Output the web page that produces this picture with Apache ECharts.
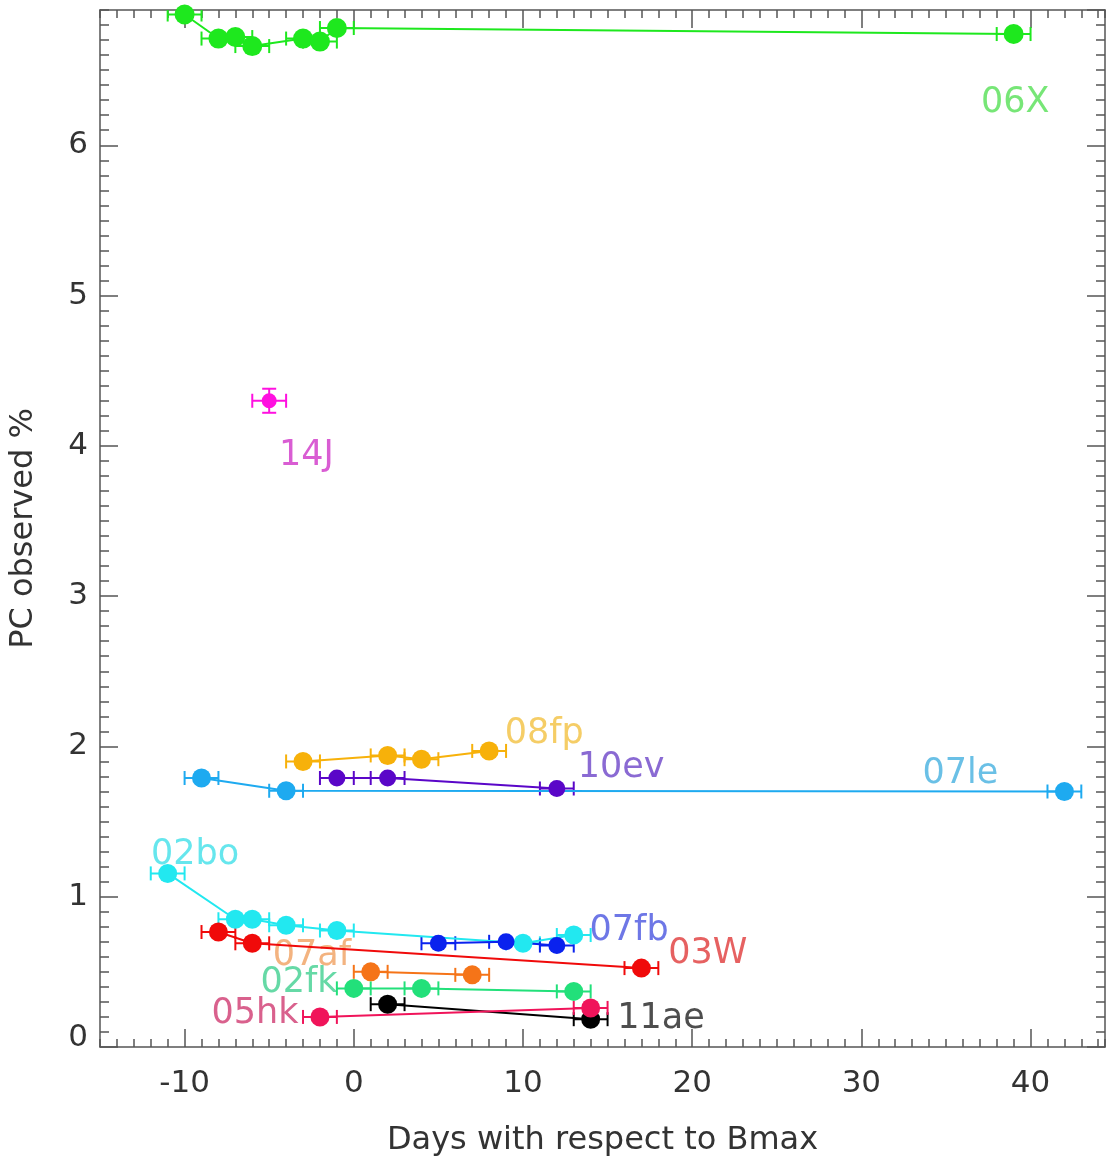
<!DOCTYPE html>
<html><head><meta charset="utf-8">
<script src="https://cdn.jsdelivr.net/npm/echarts@6/dist/echarts.min.js"></script>
<style>html,body{margin:0;padding:0;background:#fff}#c{width:1107px;height:1162px}</style>
</head><body><div id="c"></div>
<script>
// ---- data (days w.r.t. Bmax, PC observed %, x error in days) ----
const names = ['06X','14J','07le','08fp','10ev','02bo','07fb','03W','07af','02fk','11ae','05hk'];
const days06X = [-10, -8, -7, -6, -3, -2, -1, 39];
const pc06X   = [6.87, 6.71, 6.72, 6.66, 6.71, 6.69, 6.78, 6.74];
const err06X  = [1, 1, 1, 1, 1, 1, 1, 1];
const days14J = [-5];
const pc14J   = [4.30];
const err14J  = [1];
const yerr14J = [0.08];
const days07le = [-9, -4, 42];
const pc07le   = [1.79, 1.705, 1.70];
const err07le  = [1, 1, 1];
const days08fp = [-3, 2, 4, 8];
const pc08fp   = [1.90, 1.94, 1.915, 1.97];
const err08fp  = [1, 1, 1, 1];
const days10ev = [-1, 2, 12];
const pc10ev   = [1.79, 1.79, 1.72];
const err10ev  = [1, 1, 1];
const days02bo = [-11, -7, -6, -4, -1, 10, 13];
const pc02bo   = [1.155, 0.85, 0.85, 0.81, 0.775, 0.69, 0.745];
const err02bo  = [1, 1, 1, 1, 1, 1, 1];
const days07fb = [5, 9, 12];
const pc07fb   = [0.69, 0.70, 0.675];
const err07fb  = [1, 1, 1];
const days03W = [-8, -6, 17];
const pc03W   = [0.765, 0.69, 0.525];
const err03W  = [1, 1, 1];
const days07af = [1, 7];
const pc07af   = [0.50, 0.48];
const err07af  = [1, 1];
const days02fk = [0, 4, 13];
const pc02fk   = [0.39, 0.39, 0.37];
const err02fk  = [1, 1, 1];
const days11ae = [2, 14];
const pc11ae   = [0.285, 0.185];
const err11ae  = [1, 1];
const days05hk = [-2, 14];
const pc05hk   = [0.20, 0.26];
const err05hk  = [1, 1];
// label anchor positions (data units)
const labelDays = [39.1, -2.8, 35.85, 11.26, 15.8, -9.38, 16.27, 20.93, -2.48, -3.24, 18.16, -5.84];
const labelPC   = [6.28, 3.93, 1.815, 2.08, 1.855, 1.278, 0.775, 0.62, 0.607, 0.427, 0.185, 0.218];
// axes
const xMajorTicks = [-10, 0, 10, 20, 30, 40];
const xMin = -15, xMax = 44.4, yMin = 0, yMax = 6.9;

// ---- styles ----
const colors = {
  '06X':'#1ee81e','14J':'#ff10e0','07le':'#1eaaf0','08fp':'#f7b10a','10ev':'#5a06c8',
  '02bo':'#22e8f0','07fb':'#0a22ee','03W':'#f00a0a','07af':'#f57418','02fk':'#22e07a',
  '11ae':'#000000','05hk':'#f0145a'
};
const labelColors = {
  '06X':'#55e055','14J':'#d035c8','07le':'#45b0e0','08fp':'#f2c040','10ev':'#6d45c8',
  '02bo':'#40e0e8','07fb':'#4a55e0','03W':'#e03a3a','07af':'#f0a060','02fk':'#40d090',
  '11ae':'#222222','05hk':'#d03a70'
};
const sizes = {'06X':20,'14J':15,'10ev':17,'07fb':17};

const dataMap = {
  '06X':[days06X,pc06X,err06X],'14J':[days14J,pc14J,err14J,yerr14J],'07le':[days07le,pc07le,err07le],
  '08fp':[days08fp,pc08fp,err08fp],'10ev':[days10ev,pc10ev,err10ev],'02bo':[days02bo,pc02bo,err02bo],
  '07fb':[days07fb,pc07fb,err07fb],'03W':[days03W,pc03W,err03W],'07af':[days07af,pc07af,err07af],
  '02fk':[days02fk,pc02fk,err02fk],'11ae':[days11ae,pc11ae,err11ae],'05hk':[days05hk,pc05hk,err05hk]
};

function errRender(params, api) {
  const x = api.value(0), y = api.value(1), ex = api.value(2), ey = api.value(3);
  const col = api.visual('color');
  const st = {stroke: col, lineWidth: 2};
  const l = api.coord([x - ex, y]), r = api.coord([x + ex, y]);
  const cap = 7;
  const ch = [
    {type:'line', shape:{x1:l[0],y1:l[1],x2:r[0],y2:r[1]}, style:st},
    {type:'line', shape:{x1:l[0],y1:l[1]-cap,x2:l[0],y2:l[1]+cap}, style:st},
    {type:'line', shape:{x1:r[0],y1:r[1]-cap,x2:r[0],y2:r[1]+cap}, style:st}
  ];
  if (ey > 0) {
    const t = api.coord([x, y + ey]), b = api.coord([x, y - ey]);
    ch.push({type:'line', shape:{x1:t[0],y1:t[1],x2:b[0],y2:b[1]}, style:st});
    ch.push({type:'line', shape:{x1:t[0]-cap,y1:t[1],x2:t[0]+cap,y2:t[1]}, style:st});
    ch.push({type:'line', shape:{x1:b[0]-cap,y1:b[1],x2:b[0]+cap,y2:b[1]}, style:st});
  }
  return {type:'group', children: ch};
}

const series = [];
names.forEach(n => {
  const [d, p, e, ye] = dataMap[n];
  series.push({
    type:'custom', name:n+'_err', xAxisIndex:0, yAxisIndex:0, renderItem: errRender,
    itemStyle:{color:colors[n]}, z:2, clip:true,
    data: d.map((v,i)=>[v, p[i], e[i], ye ? ye[i] : 0])
  });
  series.push({
    type:'line', name:n, xAxisIndex:0, yAxisIndex:0, z:3,
    data: d.map((v,i)=>[v, p[i]]),
    symbol:'circle', symbolSize: sizes[n] || 19, showSymbol:true,
    itemStyle:{color:colors[n]}, lineStyle:{color:colors[n], width:2}
  });
});
series.push({
  type:'scatter', name:'labels', xAxisIndex:0, yAxisIndex:0, z:1, symbolSize:0, silent:true,
  data: names.map((n,i)=>({value:[labelDays[i], labelPC[i]], label:{color:labelColors[n]}})),
  label:{show:true, position:'inside', formatter: p => names[p.dataIndex],
         fontFamily:'DejaVu Sans', fontSize:35, align:'center', verticalAlign:'middle'}
});

const tickStyle = {color:'#555', width:1.5};
const axisLine = {show:true, onZero:false, lineStyle:{color:'#555', width:1.5}};
const noLine = {show:false, onZero:false};
const labelFont = {fontFamily:'DejaVu Sans', fontSize:31, color:'#333'};
const option = {
  animation:false,
  backgroundColor:'#fff',
  grid:{left:98, right:2, top:10, bottom:99, containLabel:false},
  xAxis:[
    {type:'value', min:xMin, max:xMax, interval:1, position:'bottom',
     axisLine, axisTick:{show:true, inside:true, length:8, lineStyle:tickStyle},
     axisLabel:{show:false}, splitLine:{show:false},
     name:'Days with respect to Bmax', nameLocation:'middle', nameGap:78,
     nameTextStyle:{fontFamily:'DejaVu Sans', fontSize:32, color:'#333'}},
    {type:'value', min:xMin, max:xMax, position:'bottom',
     axisLine:noLine, axisTick:{show:true, inside:true, length:18, customValues:xMajorTicks, lineStyle:tickStyle},
     axisLabel:Object.assign({show:true, margin:21, customValues:xMajorTicks}, labelFont), splitLine:{show:false}},
    {type:'value', min:xMin, max:xMax, interval:1, position:'top',
     axisLine, axisTick:{show:true, inside:true, length:8, lineStyle:tickStyle},
     axisLabel:{show:false}, splitLine:{show:false}},
    {type:'value', min:xMin, max:xMax, position:'top',
     axisLine:noLine, axisTick:{show:true, inside:true, length:18, customValues:xMajorTicks, lineStyle:tickStyle},
     axisLabel:{show:false}, splitLine:{show:false}}
  ],
  yAxis:[
    {type:'value', min:yMin, max:yMax, interval:1, position:'left',
     axisLine, axisTick:{show:true, inside:true, length:18, lineStyle:tickStyle},
     axisLabel:Object.assign({show:true, margin:12, showMaxLabel:false,
       formatter: v => v === 0 ? '{z|0}' : String(v),
       rich:{z:{fontFamily:'DejaVu Sans', fontSize:31, color:'#333', padding:[0,0,18,0]}}}, labelFont),
     splitLine:{show:false},
     name:'PC observed %', nameLocation:'middle', nameGap:60, nameRotate:90,
     nameTextStyle:{fontFamily:'DejaVu Sans', fontSize:32, color:'#333'}},
    {type:'value', min:yMin, max:yMax, interval:0.1, position:'left',
     axisLine:noLine, axisTick:{show:true, inside:true, length:9, lineStyle:tickStyle},
     axisLabel:{show:false}, splitLine:{show:false}},
    {type:'value', min:yMin, max:yMax, interval:1, position:'right',
     axisLine, axisTick:{show:true, inside:true, length:18, lineStyle:tickStyle},
     axisLabel:{show:false}, splitLine:{show:false}},
    {type:'value', min:yMin, max:yMax, interval:0.1, position:'right',
     axisLine:noLine, axisTick:{show:true, inside:true, length:9, lineStyle:tickStyle},
     axisLabel:{show:false}, splitLine:{show:false}}
  ],
  series
};
const chart = echarts.init(document.getElementById('c'), null, {renderer:'canvas'});
chart.setOption(option);
</script></body></html>
